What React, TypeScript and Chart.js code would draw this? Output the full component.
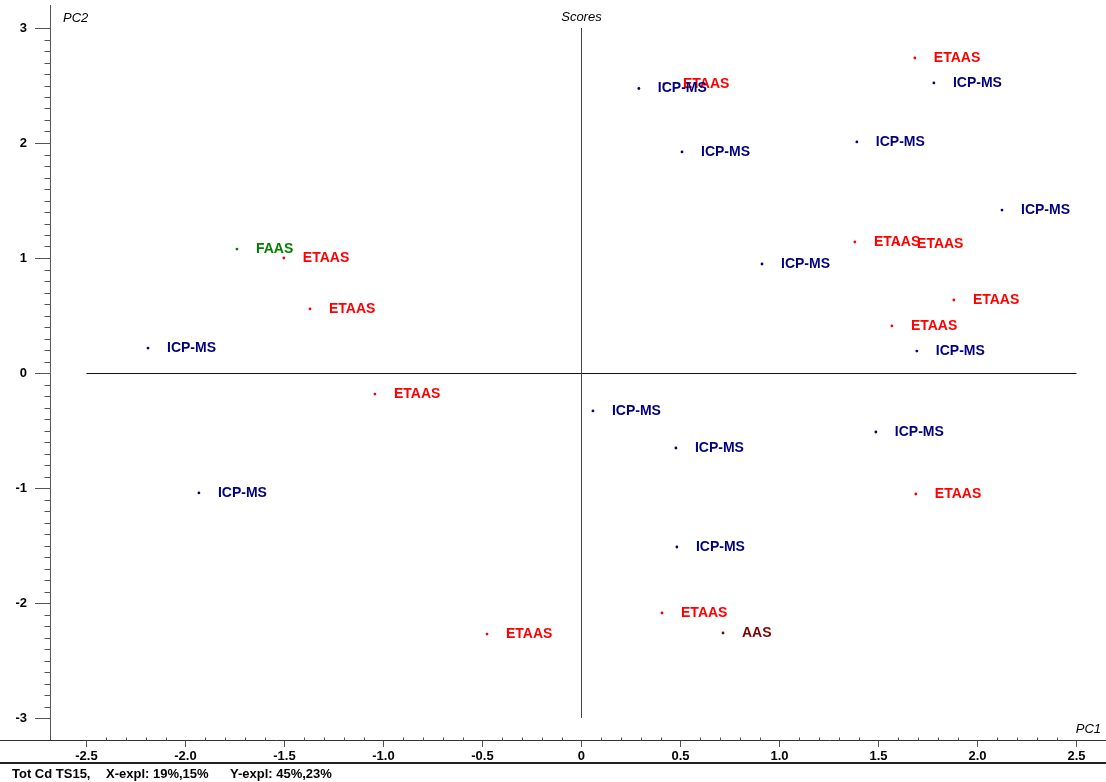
import { useEffect, useRef } from 'react';
import { Chart, registerables } from 'chart.js';

Chart.register(...registerables);

// ---- data ----
const methods = [
  'ETAAS', 'ICP-MS', 'ETAAS', 'ICP-MS', 'ICP-MS', 'ICP-MS', 'ICP-MS', 'ETAAS', 'ETAAS',
  'ICP-MS', 'ETAAS', 'ETAAS', 'ICP-MS', 'FAAS', 'ETAAS', 'ETAAS', 'ICP-MS', 'ETAAS',
  'ICP-MS', 'ICP-MS', 'ICP-MS', 'ICP-MS', 'ETAAS', 'ICP-MS', 'ETAAS', 'AAS', 'ETAAS',
];
const pc1 = [
  0.417, 0.290, 1.684, 1.780, 0.508, 1.391, 2.124, 1.381, 1.599,
  0.912, 1.881, 1.568, 1.694, -1.740, -1.503, -1.371, -2.189, -1.043,
  -1.932, 0.058, 0.477, 1.487, 1.689, 0.482, 0.407, 0.715, -0.477,
];
const pc2 = [
  2.513, 2.474, 2.739, 2.522, 1.922, 2.009, 1.417, 1.139, 1.122,
  0.948, 0.635, 0.409, 0.191, 1.078, 1.000, 0.557, 0.217, -0.183,
  -1.043, -0.330, -0.652, -0.513, -1.052, -1.513, -2.087, -2.261, -2.270,
];
const methodOrder = ['ICP-MS', 'ETAAS', 'FAAS', 'AAS'];
const xTickValues = [-2.5, -2, -1.5, -1, -0.5, 0, 0.5, 1, 1.5, 2, 2.5];
const xTickLabels = ['-2.5', '-2.0', '-1.5', '-1.0', '-0.5', '0', '0.5', '1.0', '1.5', '2.0', '2.5'];
const yTickValues = [-3, -2, -1, 0, 1, 2, 3];
const yTickLabels = ['-3', '-2', '-1', '0', '1', '2', '3'];
const xMinorStep = 0.1;
const yMinorStep = 0.1;
const footerParts = ['Tot Cd TS15,', 'X-expl: 19%,15%', 'Y-expl: 45%,23%'];
const titleText = 'Scores';
const xAxisName = 'PC1';
const yAxisName = 'PC2';

// ---- styles ----
const colors: Record<string, string> = {
  'ICP-MS': '#000080',
  ETAAS: '#ff0000',
  FAAS: '#008000',
  AAS: '#800000',
};
const FONT = '"Liberation Sans", Arial, Helvetica, sans-serif';
const AXIS_COLOR = '#555555';

const decorPlugin = {
  id: 'decor',
  afterDatasetsDraw(chart: any) {
    const { ctx, scales, chartArea, width, height } = chart;
    const xs = scales.x;
    const ys = scales.y;
    ctx.save();

    // zero lines
    ctx.strokeStyle = '#111';
    ctx.lineWidth = 1;
    const y0 = Math.round(ys.getPixelForValue(0)) + 0.5;
    const x0 = Math.round(xs.getPixelForValue(0)) + 0.5;
    ctx.beginPath();
    ctx.moveTo(xs.getPixelForValue(xTickValues[0]), y0);
    ctx.lineTo(xs.getPixelForValue(xTickValues[xTickValues.length - 1]), y0);
    ctx.stroke();
    ctx.strokeStyle = '#444';
    ctx.beginPath();
    ctx.moveTo(x0, ys.getPixelForValue(yTickValues[yTickValues.length - 1]));
    ctx.lineTo(x0, ys.getPixelForValue(yTickValues[0]));
    ctx.stroke();

    // axis lines
    ctx.strokeStyle = AXIS_COLOR;
    const axL = Math.round(chartArea.left) - 0.5;
    const axB = Math.round(chartArea.bottom) - 0.5;
    ctx.beginPath();
    ctx.moveTo(axL, chartArea.top);
    ctx.lineTo(axL, axB);
    ctx.stroke();
    ctx.strokeStyle = '#333';
    ctx.beginPath();
    ctx.moveTo(0, axB);
    ctx.lineTo(width, axB);
    ctx.stroke();

    // minor ticks
    ctx.strokeStyle = AXIS_COLOR;
    const yFrom = yTickValues[0];
    const yTo = yTickValues[yTickValues.length - 1];
    const nY = Math.round((yTo - yFrom) / yMinorStep);
    ctx.beginPath();
    for (let i = 1; i < nY; i++) {
      const v = yFrom + i * yMinorStep;
      if (i % 10 === 0) continue;
      const py = Math.round(ys.getPixelForValue(v)) + 0.5;
      ctx.moveTo(axL - 6, py);
      ctx.lineTo(axL, py);
    }
    const xFrom = xTickValues[0];
    const xTo = xTickValues[xTickValues.length - 1];
    const nX = Math.round((xTo - xFrom) / xMinorStep);
    for (let i = 1; i < nX; i++) {
      if (i % 5 === 0) continue;
      const v = xFrom + i * xMinorStep;
      const px = Math.round(xs.getPixelForValue(v)) + 0.5;
      ctx.moveTo(px, axB - 3);
      ctx.lineTo(px, axB);
    }
    ctx.stroke();

    // point labels
    ctx.font = `bold 14px ${FONT}`;
    ctx.textBaseline = 'middle';
    ctx.textAlign = 'left';
    for (let i = 0; i < methods.length; i++) {
      const px = xs.getPixelForValue(pc1[i]);
      const py = ys.getPixelForValue(pc2[i]);
      ctx.fillStyle = colors[methods[i]];
      ctx.fillText(methods[i], px + 19, py);
    }

    // axis names and title
    ctx.fillStyle = '#000';
    ctx.font = `italic 13px ${FONT}`;
    ctx.textBaseline = 'middle';
    ctx.textAlign = 'left';
    ctx.fillText(yAxisName, chartArea.left + 12, 18);
    ctx.textAlign = 'center';
    ctx.fillText(titleText, xs.getPixelForValue(0), 17);
    ctx.textAlign = 'right';
    ctx.fillText(xAxisName, width - 5, 729);

    // footer separator and text
    ctx.strokeStyle = '#222';
    ctx.lineWidth = 2;
    ctx.beginPath();
    ctx.moveTo(0, 763);
    ctx.lineTo(width, 763);
    ctx.stroke();
    ctx.font = `bold 13px ${FONT}`;
    ctx.textAlign = 'left';
    ctx.fillStyle = '#000';
    const footerX = [12, 106, 230];
    footerParts.forEach((t, i) => ctx.fillText(t, footerX[i], height - 8));

    ctx.restore();
  },
};

export default function App() {
  const canvasRef = useRef<HTMLCanvasElement | null>(null);

  useEffect(() => {
    document.body.style.margin = '0';
    const canvas = canvasRef.current;
    if (!canvas) return;

    const datasets = methodOrder.map((m) => ({
      label: m,
      data: methods
        .map((mm, i) => (mm === m ? { x: pc1[i], y: pc2[i] } : null))
        .filter((p) => p !== null),
      pointRadius: 1.4,
      pointHoverRadius: 1.4,
      pointBorderWidth: 0,
      backgroundColor: colors[m],
      borderColor: colors[m],
      showLine: false,
    }));

    const chart = new Chart(canvas, {
      type: 'scatter',
      data: { datasets: datasets as any },
      options: {
        animation: false,
        responsive: true,
        maintainAspectRatio: false,
        layout: { padding: { top: 5, right: 6, left: 0, bottom: 0 } },
        plugins: {
          legend: { display: false },
          tooltip: { enabled: false },
          title: { display: false },
        },
        scales: {
          x: {
            type: 'linear',
            position: 'bottom',
            min: -2.679,
            max: 2.619,
            afterFit: (s: any) => {
              s.height = 41;
              s.paddingLeft = 0;
              s.paddingRight = 0;
            },
            afterBuildTicks: (s: any) => {
              s.ticks = xTickValues.map((v) => ({ value: v }));
            },
            ticks: {
              autoSkip: false,
              maxRotation: 0,
              padding: 2,
              color: '#000',
              font: { family: FONT, size: 13, weight: 'bold' },
              callback: (v: any) => {
                const idx = xTickValues.findIndex((t) => Math.abs(t - Number(v)) < 1e-9);
                return idx >= 0 ? xTickLabels[idx] : '';
              },
            },
            grid: {
              display: true,
              drawOnChartArea: false,
              drawTicks: true,
              tickLength: 6,
              tickColor: AXIS_COLOR,
            },
            border: { display: false },
          },
          y: {
            type: 'linear',
            position: 'left',
            min: -3.2,
            max: 3.2,
            afterFit: (s: any) => {
              s.width = 51;
              s.paddingTop = 0;
              s.paddingBottom = 0;
            },
            afterBuildTicks: (s: any) => {
              s.ticks = yTickValues.map((v) => ({ value: v }));
            },
            ticks: {
              autoSkip: false,
              padding: 8,
              color: '#000',
              font: { family: FONT, size: 13, weight: 'bold' },
              callback: (v: any) => {
                const idx = yTickValues.findIndex((t) => Math.abs(t - Number(v)) < 1e-9);
                return idx >= 0 ? yTickLabels[idx] : '';
              },
            },
            grid: {
              display: true,
              drawOnChartArea: false,
              drawTicks: true,
              tickLength: 16,
              tickColor: AXIS_COLOR,
            },
            border: { display: false },
          },
        },
      },
      plugins: [decorPlugin],
    });

    return () => chart.destroy();
  }, []);

  return (
    <div style={{ position: 'absolute', left: 0, top: 0, width: 1106, height: 782, background: '#fff' }}>
      <canvas ref={canvasRef} />
    </div>
  );
}
